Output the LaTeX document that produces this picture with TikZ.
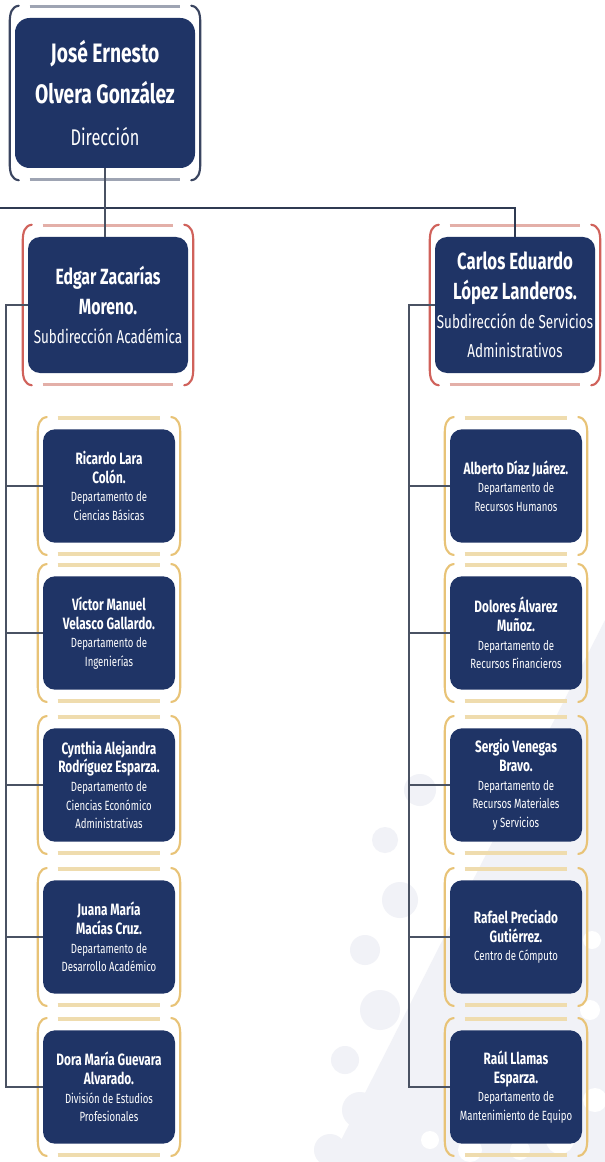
\documentclass[tikz,border=0pt]{standalone}
\usepackage{fontspec}
\setmainfont{Fira Sans}[FakeStretch=0.72]
\usetikzlibrary{calc,positioning}

\definecolor{azul}{HTML}{1F3466}
\definecolor{linea}{HTML}{4A5263}
\definecolor{barra}{HTML}{2F3A52}
\definecolor{rojo}{HTML}{D0625B}
\definecolor{rojoclaro}{HTML}{E3AFA8}
\definecolor{oro}{HTML}{E8C377}
\definecolor{oroclaro}{HTML}{EFDCAE}
\definecolor{gris}{HTML}{3A4560}
\definecolor{grisclaro}{HTML}{9EA4B3}
\definecolor{fondo}{HTML}{F1F2F7}

\newcommand{\nomb}{\fontsize{12.3}{19}\selectfont\bfseries}

% parentesis y barras alrededor de una caja: nodo, color, color de barras
\newcommand{\marco}[3]{%
\draw[#2,line width=1.6pt,line cap=round]
  ($(#1.north west)+(4,-12)$) .. controls ($(#1.north west)+(-3,-11)$) and ($(#1.north west)+(-5,-5)$) .. ($(#1.north west)+(-5,5)$)
  -- ($(#1.south west)+(-5,-5)$) .. controls ($(#1.south west)+(-5,5)$) and ($(#1.south west)+(-3,11)$) .. ($(#1.south west)+(4,12)$);
\draw[#2,line width=1.6pt,line cap=round]
  ($(#1.north east)+(-4,-12)$) .. controls ($(#1.north east)+(3,-11)$) and ($(#1.north east)+(5,-5)$) .. ($(#1.north east)+(5,5)$)
  -- ($(#1.south east)+(5,-5)$) .. controls ($(#1.south east)+(5,5)$) and ($(#1.south east)+(3,11)$) .. ($(#1.south east)+(-4,12)$);
\draw[#3,line width=2.4pt] ($(#1.north west)+(15,-11)$) -- ($(#1.north east)+(-15,-11)$);
\draw[#3,line width=2.4pt] ($(#1.south west)+(15,11)$) -- ($(#1.south east)+(-15,11)$);
}

\tikzset{
  caja/.style={rectangle,rounded corners=9pt,fill=azul,text=white,align=center,inner sep=0pt},
  jefe/.style={caja,rounded corners=11pt,minimum width=135pt,minimum height=112.5pt,
    font=\fontsize{17}{31}\selectfont},
  subdir/.style={caja,minimum width=120pt,minimum height=102pt,
    font=\fontsize{14}{22}\selectfont},
  depto/.style={caja,minimum width=99pt,minimum height=85pt,
    font=\fontsize{10}{14}\selectfont},
  conector/.style={draw=linea,line width=1.1pt},
}

\begin{document}
\begin{tikzpicture}[x=0.75pt,y=-0.75pt]
\useasboundingbox (0,0) rectangle (605,1162);
\fill[white] (0,0) rectangle (605,1162);

% marca de agua
\fill[fondo] (330,1162) -- (605,620) -- (605,1162) -- cycle;
\foreach \cx/\cy/\r in {330/1150/16,360/1110/18,345/1060/14,380/1010/20,365/950/15,
  400/900/18,385/840/13,420/790/16,600/660/14,590/720/18,600/790/12}
  \fill[fondo] (\cx,\cy) circle[radius=\r];
\foreach \cx/\cy/\r in {560/1140/14,520/1150/10,595/1100/12,590/1010/10,592/940/9,
  470/1150/12,430/1140/9}
  \fill[white] (\cx,\cy) circle[radius=\r];

% direccion
\node[jefe] (jose) at (105,93)
  {{\fontsize{20}{29}\selectfont\bfseries José Ernesto}\\
   {\fontsize{20}{29}\selectfont\bfseries Olvera González}\\
   Dirección};

% subdirecciones
\node[subdir] (edgar) at (108,305)
  {{\fontsize{16.5}{21}\selectfont\bfseries Edgar Zacarías}\\
   {\fontsize{16.5}{21}\selectfont\bfseries Moreno.}\\
   Subdirección Académica};
\node[subdir] (carlos) at (515,305)
  {{\fontsize{17.5}{22}\selectfont\bfseries Carlos Eduardo}\\
   {\fontsize{17.5}{22}\selectfont\bfseries López Landeros.}\\
   Subdirección de Servicios\\
   Administrativos};

% departamentos academicos
\node[depto] (ricardo) at (109,486)
  {{\nomb Ricardo Lara}\\{\nomb Colón.}\\Departamento de\\Ciencias Básicas};
\node[depto] (victor) at (109,633)
  {{\nomb Víctor Manuel}\\{\nomb Velasco Gallardo.}\\Departamento de\\Ingenierías};
\node[depto] (cynthia) at (109,785)
  {{\nomb Cynthia Alejandra}\\{\nomb Rodríguez Esparza.}\\Departamento de\\Ciencias Económico\\Administrativas};
\node[depto] (juana) at (109,937)
  {{\nomb Juana María}\\{\nomb Macías Cruz.}\\Departamento de\\Desarrollo Académico};
\node[depto] (dora) at (109,1087)
  {{\nomb Dora María Guevara}\\{\nomb Alvarado.}\\División de Estudios\\Profesionales};

% departamentos administrativos
\node[depto] (alberto) at (516,486)
  {{\nomb Alberto Díaz Juárez.}\\Departamento de\\Recursos Humanos};
\node[depto] (dolores) at (516,633)
  {{\nomb Dolores Álvarez}\\{\nomb Muñoz.}\\Departamento de\\Recursos Financieros};
\node[depto] (sergio) at (516,785)
  {{\nomb Sergio Venegas}\\{\nomb Bravo.}\\Departamento de\\Recursos Materiales\\y Servicios};
\node[depto] (rafael) at (516,937)
  {{\nomb Rafael Preciado}\\{\nomb Gutiérrez.}\\Centro de Cómputo};
\node[depto] (raul) at (516,1087)
  {{\nomb Raúl Llamas}\\{\nomb Esparza.}\\Departamento de\\Mantenimiento de Equipo};

% marcos
\marco{jose}{gris}{grisclaro}
\marco{edgar}{rojo}{rojoclaro}
\marco{carlos}{rojo}{rojoclaro}
\foreach \n in {ricardo,victor,cynthia,juana,dora,alberto,dolores,sergio,rafael,raul}
  {\marco{\n}{oro}{oroclaro}}

% lineas
\coordinate (bus) at (0,208);
\draw[barra,line width=2.2pt] (bus) -| (carlos.north);
\draw[conector] (jose.south) -- (jose.south |- edgar.north);
\coordinate (troncoA) at (6,305);
\coordinate (troncoB) at (409,305);
\draw[conector] (edgar.west) -- (troncoA) |- (dora.west);
\draw[conector] (carlos.west) -- (troncoB) |- (raul.west);
\foreach \n in {ricardo,victor,cynthia,juana}
  \draw[conector] (\n.west) -- (\n.west -| troncoA);
\foreach \n in {alberto,dolores,sergio,rafael}
  \draw[conector] (\n.west) -- (\n.west -| troncoB);
\end{tikzpicture}
\end{document}
